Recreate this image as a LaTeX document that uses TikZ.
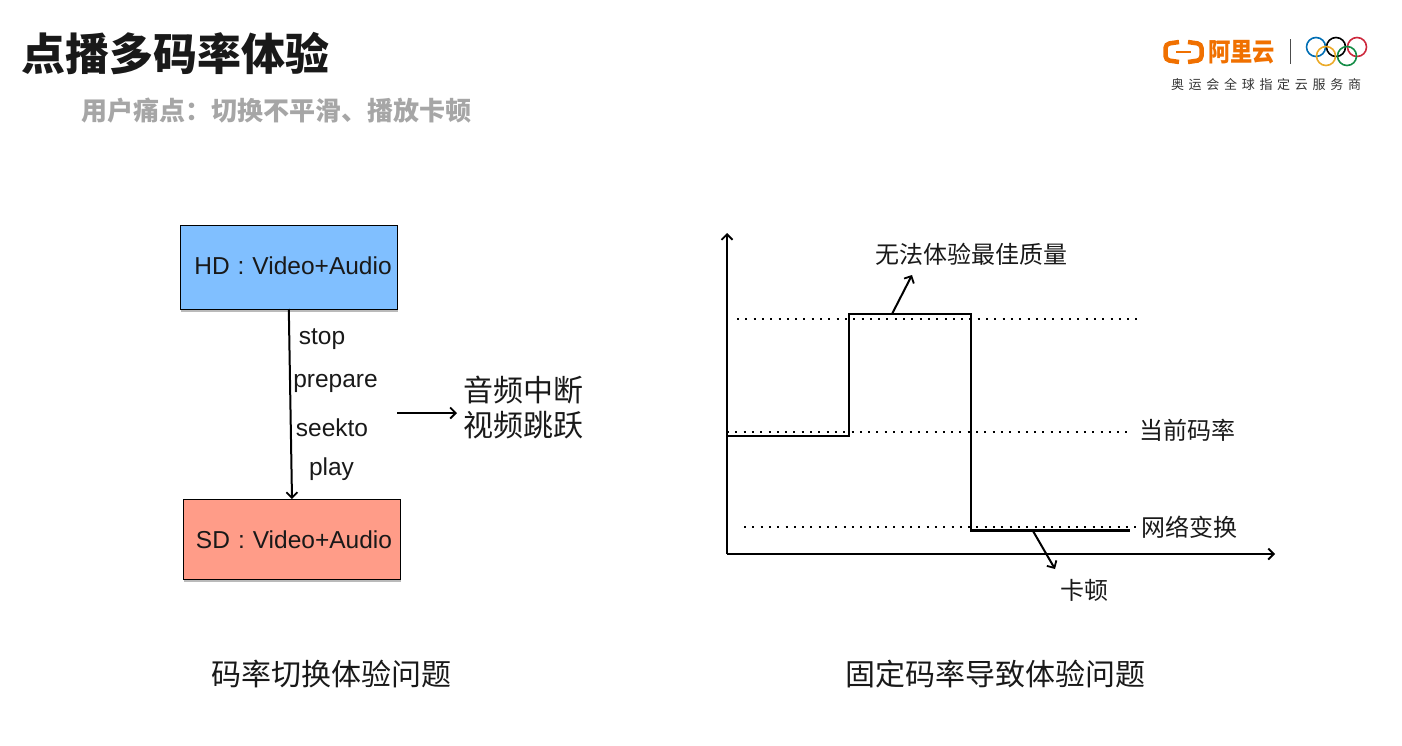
\documentclass[tikz,border=0pt]{standalone}
\usepackage{fontspec}
\setmainfont{Liberation Sans}
\newfontfamily\cjk{Noto Sans CJK SC}
\usetikzlibrary{arrows.meta,shadows,calc}
\definecolor{hdblue}{HTML}{80BFFF}
\definecolor{sdred}{HTML}{FF9C88}
\definecolor{aliorange}{HTML}{F07000}
\definecolor{subgray}{HTML}{A6A6A6}
\newcommand{\fs}[1]{\fontsize{#1}{#1}\selectfont}
\tikzset{
  x=1pt,y=-1pt,
  every node/.style={inner sep=0pt,outer sep=0pt},
  box/.style={draw=black,line width=1pt,minimum height=#1,drop shadow={shadow xshift=0.8pt,shadow yshift=-2.6pt,opacity=.45,fill=black!60}},
  lab/.style={font=\fs{24.5},text=black!90},
  cjklab/.style={font=\cjk\fs{24},text=black!90},
  bigcjk/.style={font=\cjk\fs{30},text=black!90},
  conn/.style={draw=black,line width=2pt,-{Straight Barb[length=5.5pt,width=11pt,line width=1.8pt]}},
  curve/.style={draw=black,line width=2.2pt,line join=miter},
  dots/.style={draw=black,line width=2pt,dash pattern=on 2pt off 6.3pt},
  ring/.style={line width=1.6pt,radius=9.5}
}
\begin{document}
\begin{tikzpicture}
\useasboundingbox (0,0) rectangle (1402,745);
% titles
\node (title) [anchor=center,font=\cjk\bfseries\fs{44},text=black!90] at (175,54) {点播多码率体验};
\node (sub) [anchor=center,font=\cjk\bfseries\fs{26},text=subgray] at (276.5,111) {用户痛点：切换不平滑、播放卡顿};
% logo
\begin{scope}[aliorange,line width=4.5pt,rounded corners=4pt]
\draw (1179,42) -- (1165.5,44) -- (1165.5,60) -- (1179,62);
\draw (1188,42) -- (1201.5,44) -- (1201.5,60) -- (1188,62);
\end{scope}
\draw[aliorange,line width=2pt] (1176,52) -- (1191,52);
\node (ali) [font=\cjk\bfseries\fs{23},text=aliorange,yscale=1.12,xscale=0.97] at (1241.5,52) {阿里云};
\draw[black!70,line width=0.8pt] (1290,39) -- (1290,64);
\draw[ring,draw={rgb,255:red,0;green,110;blue,180}] (1316,47) circle;
\draw[ring,draw=black] (1336,47) circle;
\draw[ring,draw={rgb,255:red,205;green,40;blue,60}] (1357,47) circle;
\draw[ring,draw={rgb,255:red,235;green,170;blue,40}] (1326,56) circle;
\draw[ring,draw={rgb,255:red,20;green,140;blue,70}] (1347,56) circle;
\node (sponsor) [font=\cjk\fs{13},text=black!80] at (1266,85) {\hbox to 190pt{奥\hfill 运\hfill 会\hfill 全\hfill 球\hfill 指\hfill 定\hfill 云\hfill 服\hfill 务\hfill 商}};
% left
\node (hd) [box=84pt,minimum width=217pt,fill=hdblue] at (288.8,267) {};
\node (hdt) [lab] at (293,266) {HD\hspace{8pt}:\hspace{8pt}Video+Audio};
\node (sd) [box=80pt,minimum width=217pt,fill=sdred] at (292,539) {};
\node (sdt) [lab] at (294,540) {SD\hspace{8pt}:\hspace{8pt}Video+Audio};
\draw[conn] (hd.south) -- (sd.north);
\node (stop) [lab] at (322,339.5) {stop};
\node (prep) [lab] at (335.5,383) {prepare};
\node (seek) [lab] at (332,428) {seekto};
\node (play) [lab] at (331.5,469) {play};
\node (res1) [bigcjk] at (523,390) {音频中断};
\node (res2) [bigcjk] at (523,425) {视频跳跃};
\coordinate (a1) at (397,413);
\coordinate (a2) at (457,413);
\draw[conn] (a1) -- (a2);
\node (cap1) [bigcjk] at (331,674) {码率切换体验问题};
% right
\coordinate (o) at (727,554);
\coordinate (ytop) at (727,233);
\coordinate (xend) at (1275,554);
\draw[conn] (o) -- (ytop);
\draw[conn] (o) -- (xend);
\coordinate (d1a) at (737,319); \coordinate (d1b) at (1141,319);
\coordinate (d2a) at (727,432); \coordinate (d2b) at (1130,432);
\coordinate (d3a) at (744,527); \coordinate (d3b) at (1140,527);
\draw[dots] (d1a) -- (d1b);
\draw[dots] (d2a) -- (d2b);
\draw[dots] (d3a) -- (d3b);
\coordinate (s0) at (727,436); \coordinate (s1) at (849,436); \coordinate (s2) at (849,314);
\coordinate (s3) at (971,314); \coordinate (s4) at (971,530.5); \coordinate (s5) at (1130,530.5);
\draw[curve] (s0) -- (s1) -- (s2) -- (s3) -- (s4) -- (s5);
\node (best) [cjklab] at (971,254.5) {无法体验最佳质量};
\node (cur) [cjklab] at (1187,430) {当前码率};
\node (net) [cjklab] at (1189,527) {网络变换};
\node (stall) [cjklab] at (1084,590) {卡顿};
\coordinate (b0) at (892,314); \coordinate (b1) at (912,275);
\coordinate (c0) at (1033,531); \coordinate (c1) at (1055,569);
\draw[conn] (b0) -- (b1);
\draw[conn] (c0) -- (c1);
\node (cap2) [bigcjk] at (995.5,674) {固定码率导致体验问题};
\end{tikzpicture}
\end{document}
